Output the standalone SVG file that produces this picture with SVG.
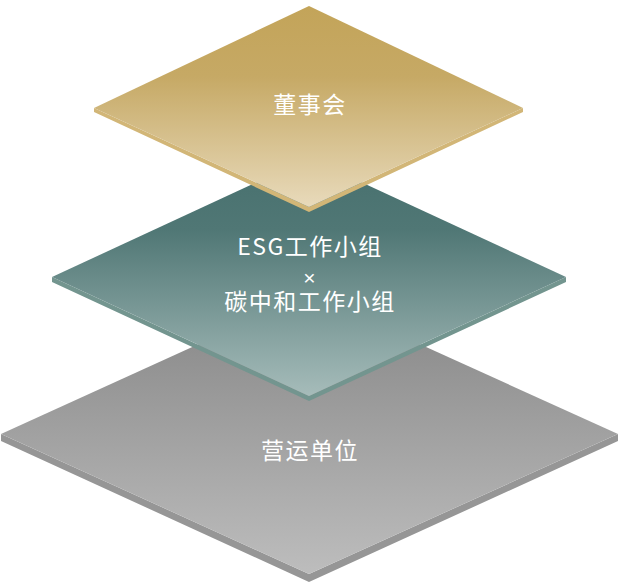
<svg xmlns="http://www.w3.org/2000/svg" width="619" height="584" viewBox="0 0 619 584">
<defs>
<linearGradient id="gGray" x1="0" y1="0" x2="0" y2="1">
<stop offset="0" stop-color="#858585"/><stop offset="1" stop-color="#bdbdbd"/>
</linearGradient>
<linearGradient id="gTeal" x1="0" y1="0" x2="0" y2="1">
<stop offset="0" stop-color="#47706e"/><stop offset="0.3" stop-color="#507775"/><stop offset="1" stop-color="#a6bcba"/>
</linearGradient>
<linearGradient id="gGold" x1="0" y1="0" x2="0" y2="1">
<stop offset="0" stop-color="#c3a459"/><stop offset="0.35" stop-color="#c6a965"/><stop offset="1" stop-color="#e8dabb"/>
</linearGradient>
<style>
.lbl{font-family:"Noto Sans CJK SC","Noto Sans",sans-serif;font-size:23px;fill:#ffffff;text-anchor:middle;letter-spacing:1.5px}
.x{font-family:"Liberation Sans",Arial,sans-serif;font-size:21px;fill:#ffffff;text-anchor:middle}
</style>
</defs>
<g id="connectors"></g>
<g id="node-operations">
<polygon points="1,434 309,574 618,434 618,441 309,582 1,441" fill="#969696"/>
<polygon points="309,294 618,434 309,574 1,434" fill="url(#gGray)"/>
<text class="lbl" x="310" y="459">营运单位</text>
</g>
<g id="node-esg">
<polygon points="52,277 309,396 566,277 566,282 309,401 52,282" fill="#73958f"/>
<polygon points="309,158 566,277 309,396 52,277" fill="url(#gTeal)"/>
<text class="lbl" x="310" y="255">ESG工作小组</text>
<text class="x" x="309.5" y="285">×</text>
<text class="lbl" x="310" y="310">碳中和工作小组</text>
</g>
<g id="node-board">
<polygon points="94,108 309,207 523,108 523,112 309,212 94,112" fill="#d2b677"/>
<polygon points="309,6 523,108 309,207 94,108" fill="url(#gGold)"/>
<text class="lbl" x="310" y="113">董事会</text>
</g>
</svg>
